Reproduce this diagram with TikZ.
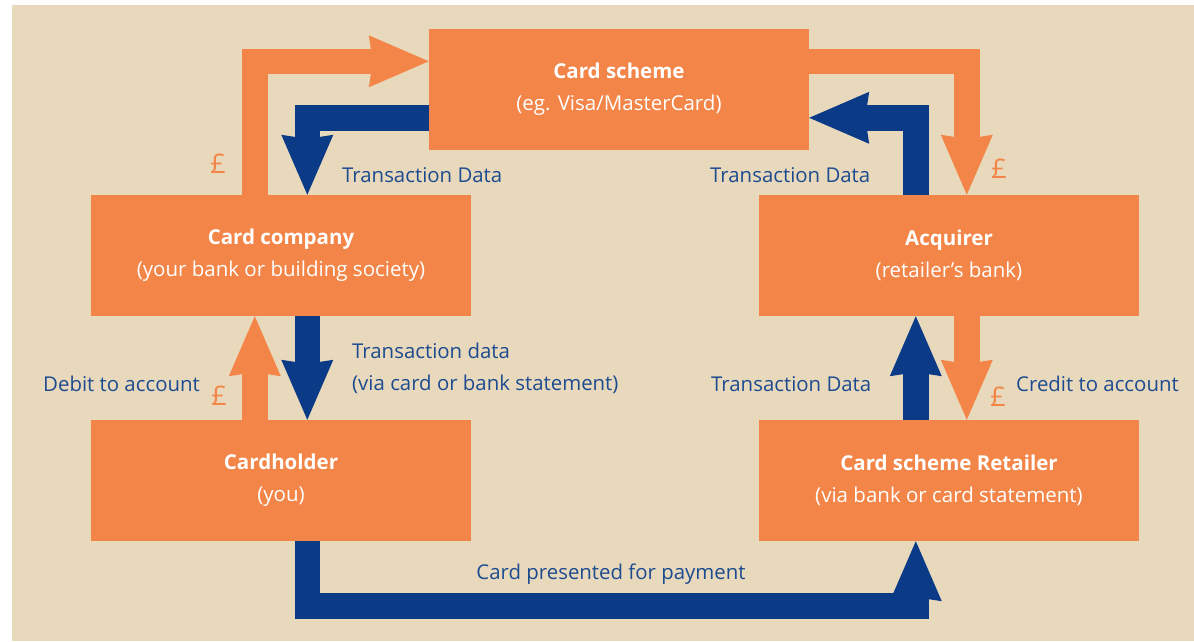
\documentclass[tikz,border=0pt]{standalone}
\usepackage{fontspec}
\setmainfont{Open Sans}
\usetikzlibrary{arrows.meta}

\definecolor{paper}{HTML}{E8D9BD}
\definecolor{cardorange}{HTML}{F28547}
\definecolor{flowblue}{HTML}{0B3B87}
\definecolor{labelblue}{HTML}{1D4B8F}

\begin{document}
\begin{tikzpicture}[x=1pt, y=-1pt,
  party/.style={fill=cardorange, draw=none, minimum width=380pt, minimum height=121pt,
    inner sep=0pt, text=white, align=center, font=\fontsize{20.5}{32}\selectfont},
  flowbar/.style={line width=25.5pt, line join=miter, line cap=butt,
    -{Stealth[length=60pt, width=52pt, inset=4pt, line width=0pt]}},
  money/.style={flowbar, draw=cardorange},
  data/.style={flowbar, draw=flowblue},
  lbl/.style={text=labelblue, font=\fontsize{20.4}{24}\selectfont, inner sep=0pt, anchor=base west},
  pound/.style={text=cardorange, font=\fontsize{27}{30}\selectfont, inner sep=0pt, anchor=base}
]
  % canvas
  \useasboundingbox (0,0) rectangle (1194,641);
  \fill[white] (0,0) rectangle (1194,641);
  \fill[paper] (12,5) rectangle (1194,641);

  % parties
  \node[party] (scheme)   at (619,89.5)  {\textbf{Card scheme}\\(eg. Visa/MasterCard)};
  \node[party] (company)  at (281,255.5) {\textbf{Card company}\\(your bank or building society)};
  \node[party] (acquirer) at (949,255.5) {\textbf{Acquirer}\\(retailer’s bank)};
  \node[party] (holder)   at (281,480.5) {\textbf{Cardholder}\\(you)};
  \node[party] (retailer) at (949,480.5) {\textbf{Card scheme Retailer}\\(via bank or card statement)};

  % money flows
  \draw[money] ([xshift=164pt]company.north west) |- ([yshift=-32.5pt]scheme.north west);
  \draw[money] ([yshift=-32.5pt]scheme.north east) -| ([xshift=208pt]acquirer.north west);
  \draw[money] ([xshift=164pt]holder.north west) -- ([xshift=164pt]company.south west);
  \draw[money] ([xshift=208pt]acquirer.south west) -- ([xshift=208pt]retailer.north west);

  % data flows
  \draw[data] ([yshift=-89pt]scheme.north west) -| ([xshift=216.5pt]company.north west);
  \draw[data] ([xshift=157pt]acquirer.north west) |- ([yshift=-89pt]scheme.north east);
  \draw[data] ([xshift=216.5pt]company.south west) -- ([xshift=216.5pt]holder.north west);
  \draw[data] ([xshift=157pt]retailer.north west) -- ([xshift=157pt]acquirer.south west);
  \draw[data] ([xshift=216.5pt]holder.south west) -- ++(0,65) -| ([xshift=157pt]retailer.south west);

  % labels
  \node[lbl] (dataA)   at (342,182) {Transaction Data};
  \node[lbl] (dataB)   at (710,182) {Transaction Data};
  \node[lbl] (dataC)   at (352,358) {Transaction data};
  \node[lbl] (dataC2)  at (352,390) {(via card or bank statement)};
  \node[lbl] (debit)   at (43,391)  {Debit to account};
  \node[lbl] (dataD)   at (711,391) {Transaction Data};
  \node[lbl] (credit)  at (1016,391) {Credit to account};
  \node[lbl, anchor=base] (present) at (611,579) {Card presented for payment};

  % pound signs
  \node[pound] (gbpA) at (218,173) {£};
  \node[pound] (gbpB) at (999,178) {£};
  \node[pound] (gbpC) at (219,405) {£};
  \node[pound] (gbpD) at (998,406) {£};
\end{tikzpicture}
\end{document}
